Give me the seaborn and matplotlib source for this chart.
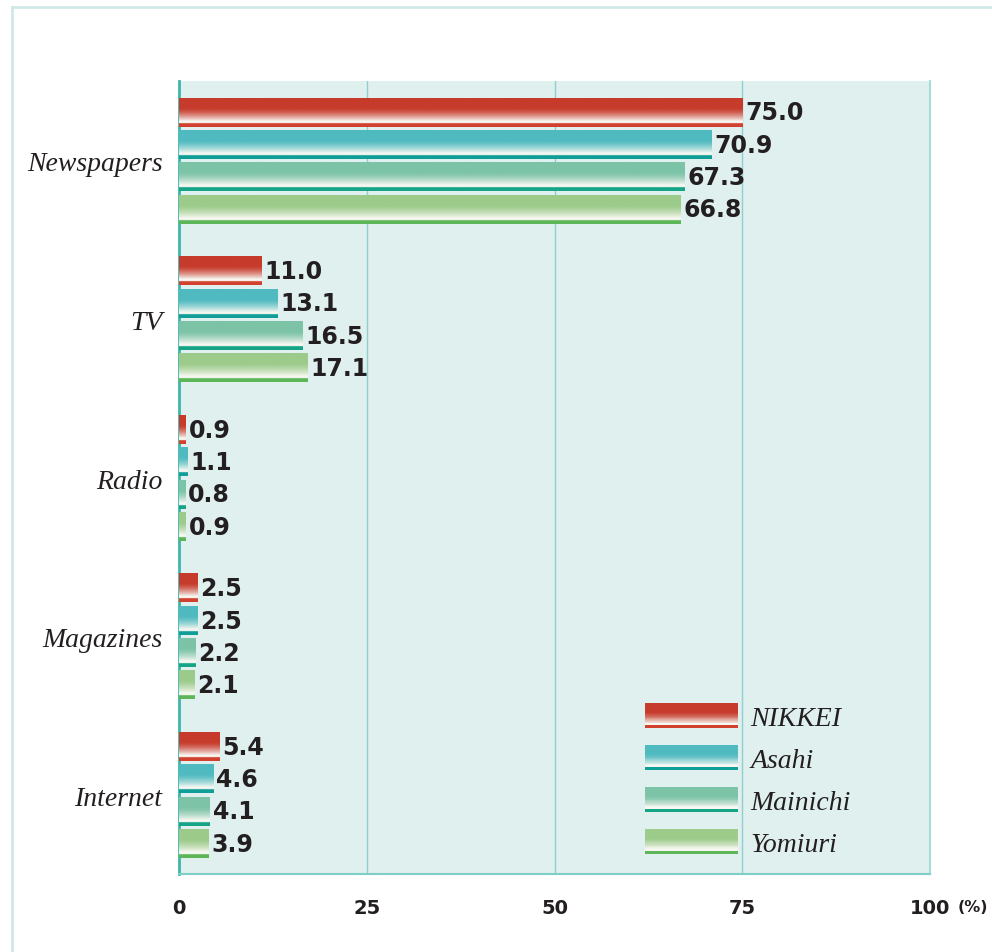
import numpy as np
import pandas as pd
import matplotlib
matplotlib.use("Agg")
import matplotlib.pyplot as plt
import seaborn as sns
from matplotlib.patches import Rectangle
from matplotlib.legend_handler import HandlerBase
from matplotlib.colors import to_rgb

media = ["Newspapers", "TV", "Radio", "Magazines", "Internet"]
papers = ["NIKKEI", "Asahi", "Mainichi", "Yomiuri"]
nikkei = [75.0, 11.0, 0.9, 2.5, 5.4]
asahi = [70.9, 13.1, 1.1, 2.5, 4.6]
mainichi = [67.3, 16.5, 0.8, 2.2, 4.1]
yomiuri = [66.8, 17.1, 0.9, 2.1, 3.9]
xticks = [0, 25, 50, 75, 100]

top_colors = ["#c63b2c", "#4fbac0", "#7cc3a7", "#9ccb8a"]
stripe_colors = ["#d2412f", "#109e98", "#16a487", "#5db657"]

rows = []
for p, vals in zip(papers, [nikkei, asahi, mainichi, yomiuri]):
    for m, v in zip(media, vals):
        rows.append({"medium": m, "paper": p, "value": v})
df = pd.DataFrame(rows)


def gradient(top, stripe, n=60):
    c = np.array(to_rgb(top))
    s = np.array(to_rgb(stripe))
    w = np.array([0.97, 0.97, 0.95])
    out = []
    for i in range(n):
        t = (i + 0.5) / n
        if t < 0.35:
            col = c
        elif t < 0.8:
            f = ((t - 0.35) / 0.45) ** 1.4
            col = c * (1 - f) + w * f
        elif t < 0.86:
            col = w
        else:
            col = s
        out.append(col)
    return np.array(out)[:, None, :]


sns.set_style("white")
fig = plt.figure(figsize=(9.92, 9.53), dpi=100)
fig.patch.set_facecolor("white")
ax = fig.add_axes([179 / 992, 1 - 875 / 953, (930 - 179) / 992, (875 - 82) / 953])

sns.barplot(data=df, y="medium", x="value", hue="paper", orient="h",
            palette=top_colors, width=0.815, gap=0.12, ax=ax, legend=False,
            order=media, hue_order=papers)

ax.set_facecolor("#e0f0ef")
for ci, cont in enumerate(ax.containers):
    g = gradient(top_colors[ci], stripe_colors[ci])
    for patch in cont.patches:
        x0, y0 = patch.get_x(), patch.get_y()
        w, h = patch.get_width(), patch.get_height()
        patch.set_facecolor("none")
        patch.set_edgecolor("none")
        ax.imshow(g, extent=(x0, x0 + w, y0 + h, y0), origin="upper",
                  aspect="auto", zorder=3, interpolation="bilinear")
    ax.bar_label(cont, fmt="%.1f", padding=2, fontsize=17, fontweight="bold",
                 color="#231f20", zorder=4)

ax.set_xlim(0, 100)
ax.set_ylim(4.496, -0.504)
ax.set_xticks(xticks)
ax.set_xticklabels([str(t) for t in xticks], fontsize=14, fontweight="bold", color="#231f20")
ax.tick_params(axis="x", length=0, pad=17)
ax.tick_params(axis="y", length=0, pad=12)
for lab in ax.get_yticklabels():
    lab.set_fontfamily("Liberation Serif")
    lab.set_fontstyle("italic")
    lab.set_fontsize(20)
    lab.set_color("#231f20")
ax.set_xlabel("")
ax.set_ylabel("")
ax.grid(axis="x", color="#8fd0cc", lw=1)
ax.grid(axis="y", visible=False)
ax.set_axisbelow(True)
ax.spines["top"].set_visible(False)
ax.spines["left"].set_color("#3fb5ac")
ax.spines["left"].set_linewidth(2)
ax.spines["bottom"].set_color("#7fcfc9")
ax.spines["bottom"].set_linewidth(1.5)
ax.spines["right"].set_color("#a8dcd8")
ax.spines["right"].set_linewidth(1.5)

ax.annotate("(%)", xy=(100, 0), xycoords=("data", "axes fraction"),
            xytext=(20, -18), textcoords="offset points", ha="left", va="top",
            fontsize=11.5, fontweight="bold", color="#231f20")


class GradHandle:
    def __init__(self, top, stripe):
        self.top = top
        self.stripe = stripe


class GradHandler(HandlerBase):
    def create_artists(self, legend, orig_handle, xdescent, ydescent, width,
                       height, fontsize, trans):
        g = gradient(orig_handle.top, orig_handle.stripe, n=30)[:, 0, :]
        arts = []
        n = len(g)
        for i, col in enumerate(g):
            y = -ydescent + height * (1 - (i + 1) / n)
            r = Rectangle((-xdescent, y), width, height / n + 0.05,
                          facecolor=col, edgecolor="none", transform=trans)
            arts.append(r)
        return arts


handles = [GradHandle(t, s) for t, s in zip(top_colors, stripe_colors)]
leg = ax.legend(handles, papers, handler_map={GradHandle: GradHandler()},
                loc="lower left", bbox_to_anchor=((645 - 179) / 751, (875 - 858) / 793),
                frameon=False, handlelength=3.35, handleheight=1.0,
                labelspacing=0.5, handletextpad=0.45, borderpad=0, borderaxespad=0,
                prop={"family": "Liberation Serif", "style": "italic", "size": 20})
for t in leg.get_texts():
    t.set_color("#231f20")

frame = Rectangle((12 / 992, -0.5), 1.2, 1 - 8 / 953 + 0.5,
                  transform=fig.transFigure, facecolor="none",
                  edgecolor="#cfe9e7", lw=2)
fig.add_artist(frame)

fig.savefig("out.png", dpi=100)
